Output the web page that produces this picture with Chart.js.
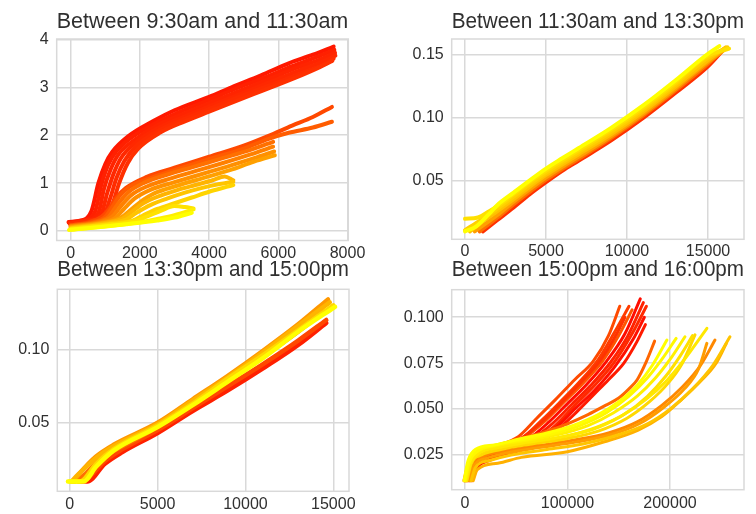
<!DOCTYPE html>
<html>
<head>
<meta charset="utf-8">
<script src="https://cdn.jsdelivr.net/npm/chart.js@4.4.1/dist/chart.umd.min.js"></script>
<style>
  body { margin: 0; background: #fff; }
  .wrap { position: relative; width: 756px; height: 514px; }
  canvas { position: absolute; left: 0; top: 0; }
</style>
</head>
<body>
<div class="wrap">
  <canvas id="c1" width="756" height="514"></canvas>
  <canvas id="c2" width="756" height="514"></canvas>
  <canvas id="c3" width="756" height="514"></canvas>
  <canvas id="c4" width="756" height="514"></canvas>
</div>
<script>
// ---- data ----
const titles = [
  'Between 9:30am and 11:30am',
  'Between 11:30am and 13:30pm',
  'Between 13:30pm and 15:00pm',
  'Between 15:00pm and 16:00pm'
];

const p1XTicks = ['0', '2000', '4000', '6000', '8000'];
const p1YTicks = ['0', '1', '2', '3', '4'];
const p2XTicks = ['0', '5000', '10000', '15000'];
const p2YTicks = ['0.05', '0.10', '0.15'];
const p3XTicks = ['0', '5000', '10000', '15000'];
const p3YTicks = ['0.05', '0.10'];
const p4XTicks = ['0', '100000', '200000'];
const p4YTicks = ['0.025', '0.050', '0.075', '0.100'];

// each line is a list of [x, y] points
const morningLines = [
  [[-60,0.19],[300,0.22],[600,0.42],[800,1.0],[1000,1.4],[1200,1.65],[1650,1.97],[2400,2.3],[3000,2.52],[4000,2.8],[4650,3.0],[5500,3.25],[6300,3.5],[7000,3.68],[7600,3.85]],
  [[-60,0.18],[350,0.22],[700,0.4],[880,0.95],[1080,1.38],[1300,1.65],[1750,1.95],[2500,2.27],[3100,2.47],[4000,2.74],[4800,2.98],[5600,3.2],[6400,3.44],[7100,3.63],[7620,3.78]],
  [[-40,0.17],[400,0.22],[800,0.38],[960,0.88],[1150,1.28],[1380,1.6],[1800,1.88],[2500,2.21],[3200,2.43],[4000,2.67],[4900,2.93],[5700,3.16],[6500,3.4],[7200,3.58],[7640,3.72]],
  [[-30,0.16],[450,0.22],[880,0.35],[1050,0.78],[1230,1.18],[1450,1.52],[1850,1.83],[2550,2.16],[3250,2.38],[4000,2.6],[5000,2.89],[5800,3.12],[6600,3.35],[7300,3.54],[7650,3.66]],
  [[-20,0.15],[500,0.22],[950,0.32],[1130,0.66],[1320,1.1],[1550,1.46],[1900,1.78],[2600,2.12],[3300,2.34],[4000,2.55],[5100,2.87],[6000,3.11],[6800,3.33],[7400,3.5],[7600,3.6]],
  [[0,0.15],[600,0.22],[1000,0.32],[1200,0.55],[1400,1.0],[1650,1.42],[1950,1.72],[2600,2.06],[3300,2.29],[4000,2.49],[5300,2.86],[6500,3.2],[7200,3.42],[7560,3.55]],
  [[0,0.12],[500,0.18],[900,0.3],[1100,0.45],[1300,0.68],[1600,0.9],[2200,1.13],[3000,1.32],[4000,1.55],[5000,1.78],[5700,1.98],[6400,2.2],[7000,2.38],[7550,2.59]],
  [[0,0.12],[600,0.18],[1000,0.3],[1200,0.5],[1400,0.72],[1700,0.92],[2300,1.1],[3000,1.27],[4000,1.5],[5000,1.72],[5700,1.92],[6300,2.05],[7000,2.16],[7550,2.28]],
  [[0,0.1],[700,0.18],[1100,0.3],[1350,0.55],[1650,0.8],[2100,1.0],[2800,1.18],[3500,1.33],[4300,1.5],[5000,1.65],[5850,1.86]],
  [[0,0.1],[800,0.18],[1200,0.3],[1450,0.52],[1750,0.75],[2200,0.93],[2900,1.1],[3600,1.25],[4400,1.42],[5200,1.6],[5850,1.76]],
  [[0,0.09],[900,0.18],[1300,0.28],[1550,0.47],[1850,0.68],[2300,0.86],[3000,1.02],[3700,1.17],[4500,1.34],[5300,1.52],[5880,1.66]],
  [[0,0.08],[1000,0.18],[1400,0.26],[1700,0.42],[2000,0.6],[2400,0.78],[3100,0.95],[3800,1.1],[4600,1.27],[5300,1.45],[5900,1.58]],
  [[0,0.07],[1000,0.17],[1500,0.26],[1800,0.42],[2100,0.58],[2600,0.74],[3100,0.86],[3600,0.96],[4100,1.06],[4450,1.14],[4700,1.06]],
  [[0,0.06],[1100,0.16],[1600,0.24],[1900,0.38],[2300,0.54],[2800,0.68],[3300,0.8],[3800,0.9],[4300,0.98],[4700,1.03]],
  [[0,0.05],[1200,0.15],[1800,0.22],[2100,0.33],[2500,0.46],[3000,0.58],[3500,0.7],[4000,0.82],[4500,0.92],[4700,0.96]],
  [[0,0.04],[1200,0.14],[1800,0.2],[2200,0.3],[2600,0.42],[3000,0.52],[3300,0.5],[3550,0.47]],
  [[0,0.03],[1300,0.12],[2000,0.18],[2500,0.25],[3000,0.33],[3550,0.45]],
  [[-50,0.02],[800,0.08],[1600,0.14],[2500,0.22],[3000,0.28],[3500,0.38]]
];

const middayLines = [
  [[1100,0.01],[2000,0.019],[3000,0.029],[4000,0.0395],[5000,0.049],[6000,0.058],[7000,0.066],[9000,0.082],[11000,0.1],[13000,0.12],[15000,0.141],[15800,0.152]],
  [[900,0.01],[2000,0.021],[3000,0.0315],[4000,0.0415],[5000,0.051],[6000,0.0595],[7000,0.0675],[9000,0.084],[11000,0.102],[13000,0.122],[15000,0.143],[15900,0.154]],
  [[600,0.01],[2000,0.023],[3000,0.0335],[4000,0.0435],[5000,0.0528],[6000,0.0612],[7000,0.0692],[9000,0.0855],[11000,0.1035],[13000,0.1235],[15000,0.1445],[16000,0.154]],
  [[300,0.01],[1000,0.017],[2000,0.026],[3000,0.0355],[4000,0.0455],[5000,0.0548],[6000,0.063],[7000,0.071],[9000,0.087],[11000,0.105],[13000,0.125],[15000,0.146],[16100,0.156]],
  [[0,0.011],[1000,0.019],[2000,0.028],[3000,0.0375],[4000,0.0475],[5000,0.0565],[6000,0.0648],[7000,0.0728],[9000,0.0888],[11000,0.1068],[13000,0.1268],[15000,0.148],[16200,0.156]],
  [[0,0.02],[800,0.021],[1500,0.026],[2000,0.03],[3000,0.0395],[4000,0.0492],[5000,0.0582],[6000,0.0665],[7000,0.0745],[9000,0.0905],[11000,0.1085],[13000,0.1285],[15000,0.1495],[16300,0.155]],
  [[0,0.01],[700,0.014],[1500,0.024],[2000,0.031],[3000,0.0408],[4000,0.0505],[5000,0.0598],[6000,0.068],[7000,0.076],[9000,0.092],[11000,0.11],[13000,0.13],[15000,0.151],[15700,0.157]]
];

const afternoonLines = [
  [[600,0.01],[1000,0.01],[2000,0.022],[3000,0.03],[5000,0.043],[7000,0.058],[9000,0.072],[11000,0.087],[13000,0.103],[14600,0.118]],
  [[500,0.01],[1000,0.012],[2000,0.024],[3000,0.032],[5000,0.045],[7000,0.06],[9000,0.075],[11000,0.09],[13000,0.106],[14600,0.12]],
  [[300,0.01],[800,0.014],[1800,0.026],[3000,0.034],[5000,0.047],[7000,0.063],[9000,0.079],[11000,0.095],[13000,0.112],[14500,0.126]],
  [[200,0.01],[600,0.016],[1500,0.027],[2500,0.035],[5000,0.05],[7000,0.066],[9000,0.082],[11000,0.099],[13000,0.117],[14700,0.134]],
  [[100,0.01],[500,0.015],[1500,0.026],[2500,0.034],[5000,0.049],[7000,0.065],[9000,0.081],[11000,0.098],[13000,0.116],[14800,0.132]],
  [[0,0.01],[600,0.01],[1500,0.022],[2500,0.032],[5000,0.048],[7000,0.063],[9000,0.08],[11000,0.096],[13000,0.113],[15000,0.13]],
  [[-100,0.01],[800,0.01],[1500,0.02],[2500,0.031],[5000,0.047],[7000,0.062],[9000,0.078],[11000,0.094],[13000,0.112],[15100,0.129]]
];

const closeLines = [
  [[-1000,0.011],[4000,0.022],[12000,0.027],[30000,0.03],[52000,0.035],[70000,0.045],[88000,0.055],[107000,0.066],[125000,0.076],[140000,0.09],[151000,0.106]],
  [[0,0.011],[5000,0.021],[14000,0.026],[32000,0.029],[55000,0.034],[75000,0.044],[93000,0.054],[112000,0.065],[130000,0.077],[146000,0.092],[160000,0.106]],
  [[3000,0.011],[8000,0.02],[18000,0.024],[36000,0.028],[60000,0.033],[82000,0.043],[100000,0.053],[118000,0.063],[138000,0.076],[156000,0.091],[171000,0.11]],
  [[5000,0.011],[10000,0.019],[20000,0.023],[40000,0.027],[65000,0.032],[88000,0.041],[107000,0.052],[125000,0.062],[145000,0.075],[162000,0.09],[177000,0.106]],
  [[7000,0.011],[12000,0.018],[24000,0.022],[45000,0.026],[70000,0.031],[90000,0.0386],[110000,0.049],[127000,0.0586],[140000,0.066],[155000,0.075],[168000,0.087],[176000,0.096]],
  [[2000,0.011],[7000,0.02],[16000,0.025],[34000,0.028],[57000,0.034],[79000,0.044],[97000,0.054],[115000,0.064],[134000,0.076],[150000,0.09],[163000,0.104]],
  [[1000,0.011],[6000,0.02],[15000,0.025],[33000,0.029],[56000,0.0345],[77000,0.044],[95000,0.054],[113000,0.0645],[132000,0.0765],[148000,0.091],[156000,0.1]],
  [[4000,0.011],[9000,0.019],[19000,0.0235],[38000,0.0275],[62000,0.0325],[85000,0.042],[104000,0.0525],[122000,0.0625],[142000,0.0755],[159000,0.09],[174000,0.108]],
  [[6000,0.011],[11000,0.0185],[22000,0.0225],[42000,0.0265],[67000,0.0315],[89000,0.04],[108000,0.0505],[126000,0.06],[146000,0.073],[164000,0.088],[175000,0.1]],
  [[0,0.011],[5000,0.021],[14000,0.027],[30000,0.03],[55000,0.034],[80000,0.038],[100000,0.042],[120000,0.047],[137000,0.052],[150000,0.056],[160000,0.061],[168000,0.066],[177000,0.076],[185000,0.087]],
  [[4000,0.011],[8000,0.019],[18000,0.024],[38000,0.027],[70000,0.03],[105000,0.033],[140000,0.037],[168000,0.043],[192000,0.052],[212000,0.062],[230000,0.074],[243900,0.0876]],
  [[5000,0.011],[9000,0.019],[20000,0.023],[40000,0.026],[72000,0.029],[108000,0.032],[142000,0.036],[170000,0.042],[194000,0.051],[214000,0.061],[228000,0.072],[236000,0.0858]],
  [[8000,0.011],[12000,0.017],[32000,0.0205],[55000,0.0237],[100000,0.0268],[136000,0.0322],[169000,0.0386],[192000,0.0459],[211000,0.055],[231000,0.0658],[245000,0.075],[255000,0.0858]],
  [[6000,0.011],[10000,0.018],[24000,0.022],[45000,0.025],[80000,0.028],[115000,0.031],[150000,0.036],[178000,0.042],[200000,0.05],[222000,0.061],[242000,0.074],[258500,0.0894]],
  [[2000,0.011],[6000,0.02],[16000,0.025],[35000,0.028],[65000,0.031],[100000,0.034],[130000,0.038],[158000,0.045],[180000,0.054],[198000,0.064],[212000,0.075],[224400,0.0904]],
  [[1000,0.011],[5000,0.02],[14000,0.026],[32000,0.029],[63000,0.032],[97000,0.035],[128000,0.04],[155000,0.047],[178000,0.057],[196000,0.068],[210000,0.079],[222000,0.09]],
  [[1000,0.011],[5000,0.02],[14000,0.026],[32000,0.029],[62000,0.032],[95000,0.035],[125000,0.039],[152000,0.046],[176000,0.055],[196000,0.065],[214000,0.077],[236000,0.094]],
  [[0,0.011],[4000,0.021],[12000,0.027],[30000,0.03],[60000,0.033],[90000,0.036],[120000,0.041],[145000,0.048],[168000,0.057],[186000,0.067],[200000,0.077],[214600,0.0894]],
  [[0,0.011],[4000,0.021],[12000,0.027],[30000,0.0305],[58000,0.0335],[85000,0.0365],[112000,0.041],[138000,0.048],[160000,0.057],[178000,0.067],[192000,0.077],[206000,0.0885]],
  [[-1000,0.011],[3000,0.022],[10000,0.028],[29000,0.0305],[55000,0.034],[80000,0.037],[105000,0.041],[130000,0.047],[150000,0.054],[168000,0.063],[183000,0.074],[197000,0.0876]]
];

// ---- styles ----
const morningColors = ['#ff1800','#ff2000','#ff2400','#ff2800','#ff2c00','#ff3000','#ff4800','#ff5c00','#ff7000','#ff8000','#ff9000','#ffa000','#ffb400','#ffc400','#ffd400','#ffe200','#ffef00','#ffff00'];
const middayColors = ['#ff3000','#ff7000','#ffa000','#ffc000','#ffd000','#ffe000','#ffff00'];
const afternoonColors = ['#ff2000','#ff4800','#ff7000','#ff9800','#ffb400','#ffd800','#ffff00'];
const closeColors = ['#ff4a00','#ff3c00','#ff0c00','#ff2a00','#ff1a00','#ff5500','#ff3300','#ff2200','#ff1000',
  '#ff6600','#ff8800','#ff9c00','#ffb000','#ffc400','#ffd800','#ffe000','#ffe800','#fff000','#fff800','#ffff00'];

const TEXT = '#303030';
const GRID = '#d9d9d9';
const TITLE_SIZE = 22;
const TICK_SIZE = 16;

Chart.defaults.font.family = "'Liberation Sans', Arial, sans-serif";

const panels = [
  { id: 'c1', title: titles[0], lines: morningLines, colors: morningColors, xTicks: p1XTicks, yTicks: p1YTicks,
    box: [56.7, 39, 348.3, 240.5], titleY: 22, xRange: [-405, 8023], yRange: [-0.198, 4.008], width: 4, xPad: 3 },
  { id: 'c2', title: titles[1], lines: middayLines, colors: middayColors, xTicks: p2XTicks, yTicks: p2YTicks,
    box: [451.7, 39, 744, 239.3], titleY: 22, xRange: [-821, 17222], yRange: [0.0037, 0.1627], width: 4, xPad: 3 },
  { id: 'c3', title: titles[2], lines: afternoonLines, colors: afternoonColors, xTicks: p3XTicks, yTicks: p3YTicks,
    box: [57.3, 289.3, 349, 491.3], titleY: 270.3, xRange: [-706, 15894], yRange: [0.0033, 0.1409], width: 4.5, xPad: 4 },
  { id: 'c4', title: titles[3], lines: closeLines, colors: closeColors, xTicks: p4XTicks, yTicks: p4YTicks,
    box: [451.7, 289.7, 744, 489.7], titleY: 270.3, xRange: [-12976, 272195], yRange: [0.0061, 0.115], width: 3, xPad: 4 }
];

// light grey frame round each plot area
const frame = {
  id: 'frame',
  afterDatasetsDraw(chart) {
    const { ctx, chartArea: a } = chart;
    ctx.save();
    ctx.strokeStyle = GRID;
    ctx.lineWidth = 1.5;
    ctx.strokeRect(a.left, a.top, a.right - a.left, a.bottom - a.top);
    ctx.restore();
  }
};

function makeChart(p) {
  const [L, T, R, B] = p.box;
  const YW = 50, XH = 20, half = TITLE_SIZE * 1.2 / 2;
  const n = p.lines.length;
  const datasets = p.lines.map((pts, i) => ({
    data: pts.map(([x, y]) => ({ x, y })),
    borderColor: p.colors[i],
    borderWidth: p.width,
    pointRadius: 0,
    cubicInterpolationMode: 'monotone',
    borderCapStyle: 'round',
    borderJoinStyle: 'round',
    order: n - i
  }));
  const axis = (ticks, range, extra) => Object.assign({
    type: 'linear',
    min: range[0],
    max: range[1],
    bounds: 'data',
    afterBuildTicks: s => { s.ticks = ticks.map(t => ({ value: Number(t) })); },
    grid: { color: GRID, lineWidth: 1.5, drawTicks: false },
    border: { display: false }
  }, extra);

  return new Chart(document.getElementById(p.id), {
    type: 'line',
    data: { datasets },
    options: {
      responsive: false,
      animation: false,
      events: [],
      layout: { padding: { left: L - YW, right: 756 - R, top: p.titleY - half, bottom: 514 - B - XH } },
      plugins: {
        legend: { display: false },
        tooltip: { enabled: false },
        title: {
          display: true,
          text: p.title,
          fullSize: false,
          color: TEXT,
          font: { size: TITLE_SIZE, weight: 'normal' },
          padding: { top: 0, bottom: T - p.titleY - half }
        }
      },
      scales: {
        x: axis(p.xTicks, p.xRange, {
          afterFit: s => { s.height = XH; },
          ticks: { callback: (v, i) => p.xTicks[i], color: TEXT, font: { size: TICK_SIZE }, padding: p.xPad, autoSkip: false, maxRotation: 0 }
        }),
        y: axis(p.yTicks, p.yRange, {
          afterFit: s => { s.width = YW; },
          ticks: { callback: (v, i) => p.yTicks[i], color: TEXT, font: { size: TICK_SIZE }, padding: 8, autoSkip: false }
        })
      }
    },
    plugins: [frame]
  });
}

panels.forEach(makeChart);
</script>
</body>
</html>
